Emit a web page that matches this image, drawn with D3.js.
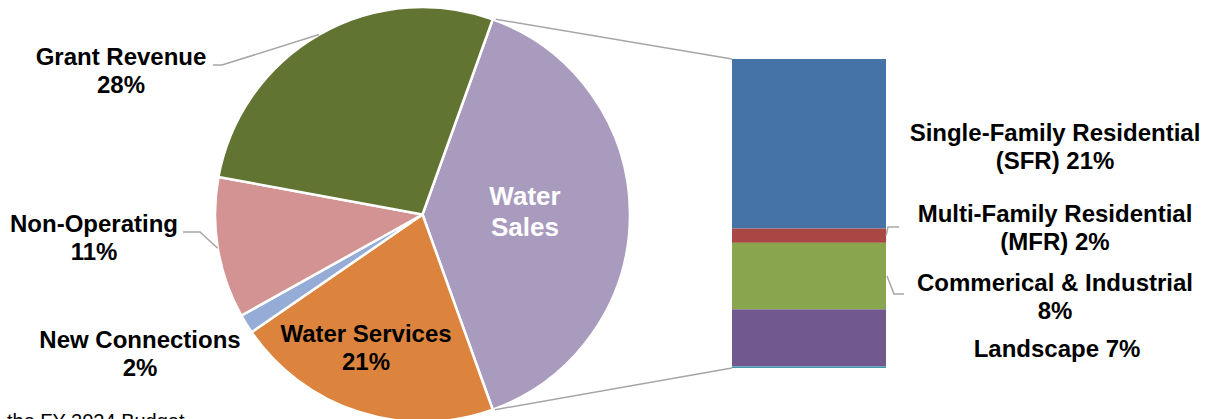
<!DOCTYPE html>
<html>
<head>
<meta charset="utf-8">
<script src="https://cdn.jsdelivr.net/npm/d3@7"></script>
<style>
  html, body { margin: 0; padding: 0; background: #fff; }
  svg { display: block; }
  text { font-family: "Liberation Sans", Arial, sans-serif; }
</style>
</head>
<body>
<svg id="chart" width="1216" height="419"></svg>
<script>
// ---- data ----
const pieCategories = ["Water Sales", "Water Services", "New Connections", "Non-Operating", "Grant Revenue"];
const pieValues     = [null, 20.9, 1.5, 11.0, 27.6]; // Water Sales = sum of its breakdown
const barCategories = ["Single-Family Residential (SFR)", "Multi-Family Residential (MFR)", "Commerical & Industrial", "Landscape", "Other"];
const barValues     = [21.4, 1.8, 8.4, 7.2, 0.2];
const footnote      = "the FY 2024 Budget";

// ---- styles / layout ----
const pieColors = ["#a99bbe", "#dc843e", "#95acd6", "#d39392", "#627431"];
const barColors = ["#4572a7", "#aa4643", "#89a54e", "#71588f", "#4198af"];
const lineGray = "#a6a6a6";
const cx = 422.5, cy = 214.5, R = 207.5;
const barX0 = 732, barX1 = 886, barTop = 59, barBottom = 368;

const svg = d3.select("#chart");

const wsTotal = d3.sum(barValues);
const values = pieValues.map((v, i) => i === 0 ? wsTotal : v);
const total = d3.sum(values);
const pieData = pieCategories.map((c, i) => ({ name: c, value: values[i], color: pieColors[i] }));

// Excel bar-of-pie: combined slice centred on the right (90deg)
const start = Math.PI / 2 - (wsTotal / total) * Math.PI;
const pie = d3.pie().sort(null).value(d => d.value).startAngle(start).endAngle(start + 2 * Math.PI);
const arcs = pie(pieData);
const arc = d3.arc().innerRadius(0).outerRadius(R);

const g = svg.append("g").attr("transform", `translate(${cx},${cy})`);
g.selectAll("path").data(arcs).enter().append("path")
  .attr("d", arc)
  .attr("fill", d => d.data.color)
  .attr("stroke", "#fff")
  .attr("stroke-width", 2.5)
  .attr("stroke-linejoin", "round");

const pt = (a, r) => [cx + r * Math.sin(a), cy - r * Math.cos(a)];

// connector lines pie -> bar
const ws = arcs[0];
const pTop = pt(ws.startAngle, R), pBot = pt(ws.endAngle, R);
svg.append("line").attr("x1", pTop[0] + 3).attr("y1", pTop[1]).attr("x2", barX0).attr("y2", barTop)
  .attr("stroke", lineGray).attr("stroke-width", 1.5);
svg.append("line").attr("x1", pBot[0] + 2).attr("y1", pBot[1]).attr("x2", barX0).attr("y2", barBottom)
  .attr("stroke", lineGray).attr("stroke-width", 1.5);

// stacked bar
const y = d3.scaleLinear().domain([0, wsTotal]).range([barTop, barBottom]);
const x = d3.scaleBand().domain(["Water Sales"]).range([barX0, barX1]).padding(0);
let acc = 0;
const stack = barValues.map((v, i) => { const s = acc; acc += v; return { name: barCategories[i], y0: s, y1: acc, color: barColors[i], value: v }; });
svg.selectAll("rect.seg").data(stack).enter().append("rect")
  .attr("class", "seg")
  .attr("x", x("Water Sales"))
  .attr("width", x.bandwidth())
  .attr("y", d => y(d.y0))
  .attr("height", d => y(d.y1) - y(d.y0))
  .attr("fill", d => d.color);

const pct = v => Math.round(v / total * 100) + "%";

// labels
function label(lines, xC, yB, opts = {}) {
  const t = svg.append("text")
    .attr("text-anchor", "middle")
    .attr("font-weight", "bold")
    .attr("font-size", opts.size || 24)
    .attr("fill", opts.fill || "#000");
  lines.forEach((l, i) => t.append("tspan").attr("x", xC).attr("y", yB + i * (opts.lh || 27.5)).text(l));
}

label(["Grant Revenue", pct(values[4])], 121, 65);
label(["Non-Operating", pct(values[3])], 94, 232);
label(["New Connections", pct(values[2])], 140, 348);
label(["Water Services", pct(values[1])], 366, 342);
label(["Water", "Sales"], 525, 205, { size: 26, fill: "#fff", lh: 30.5 });

label(["Single-Family Residential", "(SFR) " + pct(barValues[0])], 1055, 141);
label(["Multi-Family Residential", "(MFR) " + pct(barValues[1])], 1055, 222);
label(["Commerical & Industrial", pct(barValues[2])], 1055, 291);
label(["Landscape " + pct(barValues[3])], 1057, 357);

// leader lines
function leader(points) {
  svg.append("path").attr("d", d3.line()(points)).attr("fill", "none")
    .attr("stroke", lineGray).attr("stroke-width", 1.5);
}
const midA = a => (a.startAngle + a.endAngle) / 2;
leader([[213, 65], [222, 65], pt(midA(arcs[4]), R)]);
leader([[183, 232], [200, 232], pt(midA(arcs[3]), R)]);

const segMid = i => y((stack[i].y0 + stack[i].y1) / 2);
leader([[barX1, segMid(1)], [barX1 + 2, 227], [899, 227]]);
leader([[barX1 + 1, segMid(2)], [894, 294], [904, 294]]);

// footnote (cut off at bottom, as in the source image)
svg.append("text").attr("x", 7).attr("y", 428).attr("font-size", 20).attr("fill", "#000").text(footnote);
</script>
</body>
</html>
